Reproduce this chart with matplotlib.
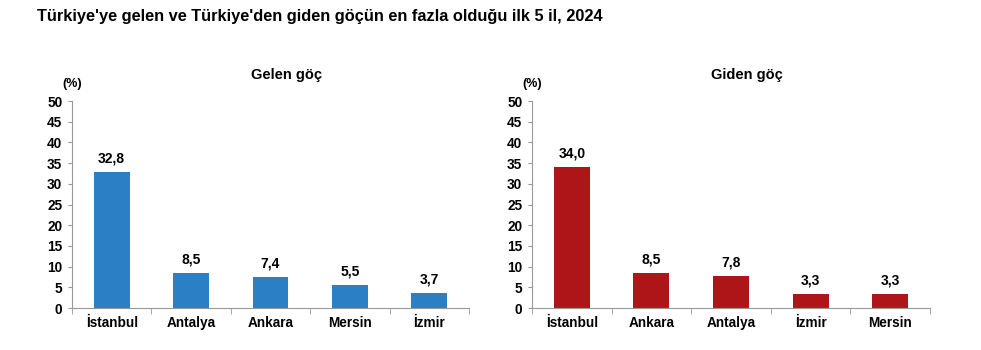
import numpy as np
import matplotlib.pyplot as plt

plt.rcParams['font.family'] = ['Liberation Sans', 'DejaVu Sans']

# data
gelen_iller = ['İstanbul', 'Antalya', 'Ankara', 'Mersin', 'İzmir']
gelen_oran = [32.8, 8.5, 7.4, 5.5, 3.7]
giden_iller = ['İstanbul', 'Ankara', 'Antalya', 'İzmir', 'Mersin']
giden_oran = [34.0, 8.5, 7.8, 3.3, 3.3]
y_ticks = [0, 5, 10, 15, 20, 25, 30, 35, 40, 45, 50]

fig = plt.figure(figsize=(9.81, 3.5), dpi=100)
fig.text(37 / 981, 1 - 16 / 350, "Türkiye'ye gelen ve Türkiye'den giden göçün en fazla olduğu ilk 5 il, 2024",
         fontsize=11.8, fontweight='bold', ha='left', va='center')

axes = [fig.add_axes([72 / 981, 0.12, 397 / 981, 0.5914]),
        fig.add_axes([532 / 981, 0.12, 398 / 981, 0.5914])]
panels = [(gelen_iller, gelen_oran, '#2b7fc5', 'Gelen göç'),
          (giden_iller, giden_oran, '#ae1519', 'Giden göç')]

for ax, (iller, oran, renk, baslik) in zip(axes, panels):
    x = np.arange(len(iller))
    ax.bar(x, oran, width=0.45, color=renk)
    for xi, v in zip(x, oran):
        ax.text(xi, v + 3.3, f'{v:.1f}'.replace('.', ','), ha='center', va='center',
                fontsize=10, fontweight='bold')
    ax.set_xlim(-0.5, len(iller) - 0.5)
    ax.set_ylim(0, 50)
    ax.set_yticks(y_ticks)
    ax.set_xticks(x)
    ax.set_xticklabels(iller, fontsize=9.8, fontweight='bold')
    ax.set_xticks(np.arange(-0.5, len(iller), 1), minor=True)
    ax.tick_params(axis='x', which='major', length=0, pad=6)
    ax.tick_params(axis='x', which='minor', length=4, color='#999999', direction='out')
    ax.tick_params(axis='y', length=3, color='#999999', direction='out', pad=4)
    for lab in ax.get_yticklabels():
        lab.set_fontsize(9.8)
        lab.set_fontweight('bold')
    for s in ['top', 'right']:
        ax.spines[s].set_visible(False)
    for s in ['left', 'bottom']:
        ax.spines[s].set_color('#999999')
        ax.spines[s].set_linewidth(0.8)
    ax.text(0.54, 1.126, baslik, transform=ax.transAxes, ha='center', va='center',
            fontsize=10.5, fontweight='bold')
    ax.text(0.0, 1.082, '(%)', transform=ax.transAxes, ha='center', va='center',
            fontsize=9, fontweight='bold')

fig.savefig('out.png', dpi=100)
